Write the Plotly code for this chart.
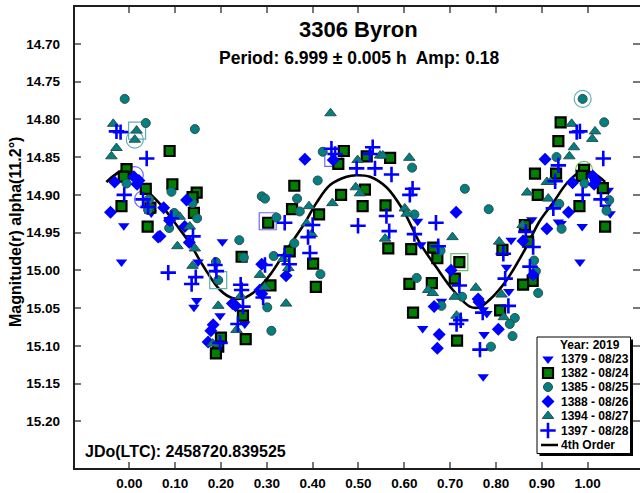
import plotly.graph_objects as go

# ---------------- data (phase, reduced magnitude) ----------------
session_labels = ["1379 - 08/23", "1382 - 08/24", "1385 - 08/25",
                  "1388 - 08/26", "1394 - 08/27", "1397 - 08/28"]

phase_1379 = [0.048, -0.012, -0.017, 0.203, 0.150, 0.147, 0.141, 0.198, 0.252, 0.629,
              0.636, 0.640, 0.681, 1.045, 1.040, 1.049, 0.878, 0.865, 0.936, 0.942,
              0.988, 0.833, 0.983, 0.823, 0.828, 0.772, 0.780, 0.774, 0.772]
mag_1379 = [14.924, 14.941, 14.989, 14.962, 14.989, 15.040, 15.049, 15.060, 15.071, 14.935,
            14.966, 15.077, 15.041, 14.894, 14.916, 14.925, 14.933, 14.939, 14.936, 14.938,
            14.942, 14.960, 14.989, 14.996, 15.028, 15.052, 15.057, 15.085, 15.141]

phase_1382 = [0.088, -0.006, -0.012, 0.094, 0.036, 0.147, 0.138, -0.017, 0.046, 0.141,
              0.040, 0.303, 0.245, 0.308, 0.248, 0.254, 0.200, 0.194, 0.189, 0.468,
              0.456, 0.518, 0.569, 0.360, 0.462, 0.514, 0.509, 0.559, 0.355, 0.414,
              0.565, 0.615, 0.663, 0.672, 0.350, 0.401, 0.407, 0.720, 0.710, 0.611,
              0.660, 0.619, 0.715, 0.941, 0.936, 0.885, 0.931, 0.992, 0.987, 1.033,
              0.891, 0.982, 1.038, 0.814, 0.880, 0.859, 0.870, 0.863, 0.809]
mag_1382 = [14.842, 14.866, 14.876, 14.886, 14.892, 14.897, 14.903, 14.915, 14.917, 14.924,
            14.942, 14.937, 14.982, 15.020, 15.060, 15.091, 15.089, 15.101, 15.110, 14.842,
            14.859, 14.849, 14.851, 14.888, 14.900, 14.893, 14.915, 14.914, 14.919, 14.926,
            14.971, 14.972, 14.970, 14.984, 14.975, 14.991, 15.022, 14.989, 15.011, 15.018,
            15.017, 15.056, 15.093, 14.804, 14.829, 14.872, 14.872, 14.867, 14.875, 14.891,
            14.900, 14.915, 14.942, 14.973, 15.014, 15.019, 14.962, 14.940, 15.053]

phase_1385 = [-0.010, 0.036, 0.143, -0.006, 0.092, 0.138, 0.043, 0.041, 0.148, 0.098,
              0.087, 0.289, 0.296, 0.321, 0.240, 0.250, 0.189, 0.194, 0.315, 0.301,
              0.310, 0.422, 0.617, 0.411, 0.366, 0.732, 0.372, 0.622, 0.360, 0.417,
              0.679, 0.627, 0.726, 0.681, 0.989, 1.036, 0.932, 0.993, 0.784, 0.938,
              1.047, 1.041, 0.943, 0.883, 0.887, 0.892, 0.841, 0.830, 0.836, 0.789]
mag_1385 = [14.773, 14.805, 14.813, 14.885, 14.896, 14.911, 14.906, 14.920, 14.931, 14.924,
            14.944, 14.902, 14.905, 14.930, 14.960, 14.983, 14.989, 15.013, 14.981, 15.049,
            15.080, 14.843, 14.864, 14.881, 14.905, 14.892, 14.922, 14.926, 14.964, 15.005,
            14.974, 15.010, 15.035, 15.047, 14.773, 14.804, 14.850, 14.885, 14.919, 14.912,
            14.907, 14.921, 14.945, 14.987, 15.001, 15.030, 15.063, 15.071, 15.087, 15.101]

phase_1388 = [-0.032, 0.010, 0.021, 0.017, 0.125, 0.075, -0.041, 0.088, 0.121, 0.067,
              0.063, 0.131, 0.289, 0.285, 0.289, 0.225, 0.232, 0.183, 0.178, 0.172,
              0.445, 0.383, 0.713, 0.342, 0.702, 0.665, 0.676, 0.672, 0.907, 0.967,
              1.011, 1.018, 1.014, 0.958, 0.911, 0.859, 0.881, 0.761, 0.763, 0.805]
mag_1388 = [14.883, 14.876, 14.881, 14.886, 14.907, 14.917, 14.923, 14.934, 14.942, 14.955,
            14.956, 14.963, 14.992, 15.026, 15.031, 15.044, 15.047, 15.072, 15.080, 15.095,
            14.854, 14.853, 14.923, 15.007, 15.000, 15.048, 15.085, 15.103, 14.853, 14.884,
            14.875, 14.881, 14.886, 14.923, 14.945, 14.961, 15.006, 15.038, 15.042, 15.078]

phase_1394 = [-0.035, 0.016, 0.012, -0.028, -0.039, 0.110, 0.132, 0.105, 0.143, 0.138,
              0.285, 0.296, 0.243, 0.194, 0.234, 0.182, 0.439, 0.547, 0.553, 0.498,
              0.611, 0.494, 0.503, 0.443, 0.392, 0.601, 0.605, 0.387, 0.398, 0.558,
              0.705, 0.336, 0.347, 0.652, 0.662, 0.710, 0.342, 0.714, 0.965, 1.016,
              1.010, 0.970, 0.960, 0.911, 0.919, 0.868, 0.914, 0.858, 0.807, 0.756,
              0.812, 0.817]
mag_1394 = [14.806, 14.815, 14.827, 14.838, 14.849, 14.929, 14.942, 14.968, 14.971, 14.994,
            15.006, 15.022, 15.034, 15.047, 15.079, 15.097, 14.792, 14.848, 14.848, 14.854,
            14.851, 14.890, 14.898, 14.911, 14.915, 14.918, 14.925, 14.938, 14.952, 14.958,
            14.956, 14.985, 14.997, 15.026, 15.030, 15.035, 15.044, 15.060, 14.806, 14.816,
            14.826, 14.837, 14.849, 14.883, 14.883, 14.897, 14.905, 14.940, 14.962, 15.023,
            15.032, 15.062]

phase_1397 = [-0.019, -0.028, 0.038, -0.011, 0.030, 0.041, 0.092, 0.139, 0.085, 0.187,
              0.190, 0.145, 0.136, 0.243, 0.245, 0.296, 0.292, 0.248, 0.237, 0.198,
              0.441, 0.449, 0.531, 0.525, 0.496, 0.536, 0.572, 0.618, 0.612, 0.561,
              0.669, 0.339, 0.400, 0.499, 0.567, 0.390, 0.622, 0.674, 0.394, 0.339,
              0.349, 0.720, 0.723, 0.714, 0.976, 0.983, 1.034, 0.936, 0.929, 0.989,
              0.925, 1.029, 0.865, 0.881, 0.816, 0.874, 0.820, 0.827, 0.771, 0.765]
mag_1397 = [14.817, 14.816, 14.852, 14.900, 14.906, 14.916, 14.931, 14.955, 15.003, 14.993,
            15.001, 15.009, 15.018, 15.019, 15.026, 14.993, 15.036, 15.048, 15.071, 15.096,
            14.839, 14.846, 14.837, 14.846, 14.865, 14.865, 14.873, 14.892, 14.900, 14.928,
            14.937, 14.937, 14.940, 14.941, 14.948, 14.956, 14.952, 14.968, 14.977, 14.980,
            14.992, 15.020, 15.066, 15.071, 14.817, 14.816, 14.852, 14.861, 14.882, 14.900,
            14.918, 14.906, 14.949, 14.969, 14.978, 14.995, 15.011, 15.047, 15.056, 15.105]

# 4th-order Fourier fit
fit_phase = [-0.050, -0.006, 0.038, 0.070, 0.103, 0.132, 0.160, 0.198, 0.226, 0.248,
             0.278, 0.307, 0.343, 0.379, 0.409, 0.438, 0.474, 0.496, 0.525, 0.561,
             0.597, 0.634, 0.670, 0.706, 0.743, 0.764, 0.786, 0.823, 0.859, 0.896,
             0.924, 0.954, 0.983, 1.011, 1.038]
fit_mag = [14.883, 14.867, 14.894, 14.914, 14.940, 14.964, 14.993, 15.026, 15.037, 15.037,
           15.026, 15.006, 14.973, 14.941, 14.910, 14.887, 14.876, 14.874, 14.876, 14.890,
           14.920, 14.964, 14.996, 15.026, 15.048, 15.049, 15.039, 15.013, 14.977, 14.934,
           14.911, 14.885, 14.870, 14.871, 14.883]

# highlighted (session start) points
hl_phase = [0.017, 0.012, 0.012, 0.030, 0.194, 0.302, 0.445, 0.720, 0.989, 0.992]
hl_mag = [14.815, 14.827, 14.874, 14.906, 15.013, 14.935, 14.851, 14.989, 14.773, 14.867]

x_ticks = [0.0, 0.1, 0.2, 0.3, 0.4, 0.5, 0.6, 0.7, 0.8, 0.9, 1.0]
y_ticks = [14.70, 14.75, 14.80, 14.85, 14.90, 14.95, 15.00, 15.05, 15.10, 15.15, 15.20]

title_text = "3306 Byron"
subtitle_text = "Period: 6.999 ± 0.005 h  Amp: 0.18"
ylabel_text = "Magnitude(r) alpha(11.2°)"
jd_text = "JDo(LTC): 2458720.839525"
legend_title = "Year: 2019"
fit_label = "4th Order"

# ---------------- styles / layout ----------------
FONT = "Liberation Sans, Arial, sans-serif"
W, H = 640, 493
L, R, T, B = 74, 640, 6, 469          # plot-area pixel box
X_RANGE = [-0.1206, 1.1141]
Y_RANGE = [15.263, 14.650]

styles = [
    dict(symbol="triangle-down", color="#0000ff", size=10, line=dict(width=0)),
    dict(symbol="square", color="#008000", size=10, line=dict(width=2.2, color="#000000")),
    dict(symbol="circle", color="#008080", size=9, line=dict(width=1, color="#3a4a4a")),
    dict(symbol="diamond", color="#0000ff", size=10, line=dict(width=0)),
    dict(symbol="triangle-up", color="#008080", size=10, line=dict(width=1, color="#2f4f4f")),
    dict(symbol="cross-thin", color="#0000ff", size=11, line=dict(width=2.6, color="#0000ff")),
]
hl_symbols = ["square-open", "circle-open", "circle-open", "circle-open", "square-open",
              "square-open", "square-open", "square-open", "circle-open", "circle-open"]
hl_colors = ["#5fb0b0", "#5fb0b0", "#6a6aff", "#6a6aff", "#5fb0b0",
             "#6a6aff", "#6a6aff", "#6abf6a", "#5fb0b0", "#6abf6a"]

series = [(phase_1379, mag_1379), (phase_1382, mag_1382), (phase_1385, mag_1385),
          (phase_1388, mag_1388), (phase_1394, mag_1394), (phase_1397, mag_1397)]


def px(x):
    return (x - L) / (R - L)


def py(y):
    return (B - y) / (B - T)


fig = go.Figure()

fig.add_trace(go.Scatter(x=fit_phase, y=fit_mag, mode="lines",
                         line=dict(color="black", width=2.6, shape="spline", smoothing=1.0),
                         hoverinfo="skip", showlegend=False))

fig.add_trace(go.Scatter(x=hl_phase, y=hl_mag, mode="markers",
                         marker=dict(symbol=hl_symbols, size=17, color=hl_colors,
                                     line=dict(width=1.2, color=hl_colors)),
                         hoverinfo="skip", showlegend=False))

for (ph, mg), st, lab in zip(series, styles, session_labels):
    fig.add_trace(go.Scatter(x=ph, y=mg, mode="markers", name=lab, marker=st,
                             showlegend=False))

# custom legend (markers on a pixel overlay axis)
leg_rows = [359, 373, 387, 401.5, 416, 430.5]
for st, yy in zip(styles, leg_rows):
    fig.add_trace(go.Scatter(x=[548], y=[yy], xaxis="x2", yaxis="y2", mode="markers",
                             marker=st, showlegend=False, hoverinfo="skip"))

shapes = []
# legend box with shadow (below traces so legend markers stay visible)
shapes.append(dict(type="rect", xref="paper", yref="paper", x0=px(539.5), x1=px(633),
                   y0=py(456), y1=py(339.5), fillcolor="#000000", line=dict(width=0),
                   layer="below"))
shapes.append(dict(type="rect", xref="paper", yref="paper", x0=px(537), x1=px(630.5),
                   y0=py(453.5), y1=py(337), fillcolor="#ffffff",
                   line=dict(width=1, color="#000000"), layer="below"))
shapes.append(dict(type="line", xref="paper", yref="paper", x0=px(541), x1=px(558),
                   y0=py(445), y1=py(445), line=dict(width=2.5, color="#000000"),
                   layer="below"))
# frame (left, top, bottom)
for (x0, y0, x1, y1) in [(L, T, L, B), (L - 1, T, R, T), (L - 1, B, R, B)]:
    shapes.append(dict(type="line", xref="paper", yref="paper", x0=px(x0), x1=px(x1),
                       y0=py(y0), y1=py(y1), line=dict(width=2, color="#1e1e1e")))

annotations = [
    dict(text="<b>%s</b>" % title_text, x=px(358), y=py(30), xref="paper", yref="paper",
         showarrow=False, xanchor="center", yanchor="middle",
         font=dict(family=FONT, size=22, color="black")),
    dict(text="<b>%s</b>" % subtitle_text, x=px(359), y=py(58), xref="paper", yref="paper",
         showarrow=False, xanchor="center", yanchor="middle",
         font=dict(family=FONT, size=17.5, color="black")),
    dict(text="<b>%s</b>" % ylabel_text, x=px(15), y=py(232), xref="paper", yref="paper",
         showarrow=False, textangle=-90, xanchor="center", yanchor="middle",
         font=dict(family=FONT, size=16, color="black")),
    dict(text="<b>%s</b>" % jd_text, x=px(83), y=py(451), xref="paper", yref="paper",
         showarrow=False, xanchor="left", yanchor="middle",
         font=dict(family=FONT, size=16, color="black")),
    dict(text="<b>%s</b>" % legend_title, x=px(590), y=py(344.5), xref="paper", yref="paper",
         showarrow=False, xanchor="center", yanchor="middle",
         font=dict(family=FONT, size=12, color="black")),
]
for lab, yy in zip(session_labels + [fit_label], leg_rows + [445]):
    annotations.append(dict(text="<b>%s</b>" % lab, x=px(559), y=py(yy), xref="paper",
                            yref="paper", showarrow=False, xanchor="left", yanchor="middle",
                            font=dict(family=FONT, size=12, color="black")))

tickfont = dict(family=FONT, size=13.5, color="black", weight="bold")
fig.update_layout(
    width=W, height=H, autosize=False,
    margin=dict(l=L, r=W - R, t=T, b=H - B, pad=0),
    paper_bgcolor="white", plot_bgcolor="white",
    showlegend=False,
    font=dict(family=FONT, color="black"),
    xaxis=dict(range=X_RANGE, tickvals=x_ticks, ticktext=["%.2f" % v for v in x_ticks],
               ticks="inside", ticklen=7, tickwidth=1.5, tickcolor="#777777",
               showline=False, mirror="ticks", showgrid=False, zeroline=False,
               tickfont=tickfont, ticklabelstandoff=4),
    yaxis=dict(range=Y_RANGE, tickvals=y_ticks, ticktext=["%.2f" % v for v in y_ticks],
               ticks="inside", ticklen=7, tickwidth=1.5, tickcolor="#777777",
               showline=False, mirror="ticks", showgrid=False, zeroline=False,
               tickfont=tickfont, ticklabelstandoff=13),
    xaxis2=dict(overlaying="x", range=[L, R], visible=False, showgrid=False, zeroline=False),
    yaxis2=dict(overlaying="y", range=[B, T], visible=False, showgrid=False, zeroline=False),
    shapes=shapes,
    annotations=annotations,
)

fig.write_html("out.html")
